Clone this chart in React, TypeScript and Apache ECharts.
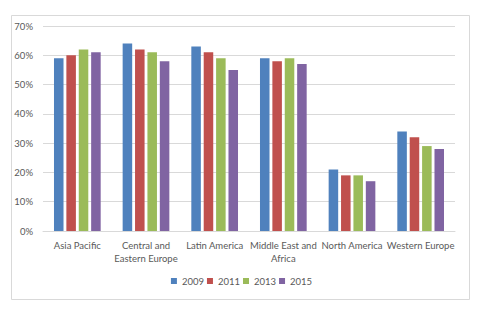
import React, { useEffect, useRef } from "react";
import * as echarts from "echarts";

const categories = [
  "Asia Pacific",
  "Central and Eastern Europe",
  "Latin America",
  "Middle East and Africa",
  "North America",
  "Western Europe",
];
const years = ["2009", "2011", "2013", "2015"];
const values2009 = [59, 64, 63, 59, 21, 34];
const values2011 = [60, 62, 61, 58, 19, 32];
const values2013 = [62, 61, 59, 59, 19, 29];
const values2015 = [61, 58, 55, 57, 17, 28];
const yTicks = [0, 10, 20, 30, 40, 50, 60, 70];

const colors = ["#4F81BD", "#C0504D", "#9BBB59", "#8064A2"];
const FONT = "Lato";
const TEXT = "#595959";

export default function App() {
  const ref = useRef<HTMLDivElement>(null);
  useEffect(() => {
    if (!ref.current) return;
    const chart = echarts.init(ref.current, null, { renderer: "svg" });
    const seriesData = [values2009, values2011, values2013, values2015];
    chart.setOption({
      animation: false,
      backgroundColor: "#ffffff",
      textStyle: { fontFamily: FONT },
      graphic: [
        {
          type: "rect",
          left: 9,
          top: 13,
          shape: { x: 0, y: 0, width: 458, height: 284 },
          style: { fill: "none", stroke: "#D9D9D9", lineWidth: 1 },
          silent: true,
        },
      ],
      grid: { left: 43, right: 28, top: 26, bottom: 83 },
      legend: {
        data: years,
        top: 271,
        left: "center",
        itemWidth: 6,
        itemHeight: 6,
        itemGap: 3,
        icon: "rect",
        textStyle: { color: TEXT, fontSize: 9.5, fontFamily: FONT },
      },
      xAxis: {
        type: "category",
        data: categories,
        axisLine: { lineStyle: { color: "#D9D9D9" } },
        axisTick: { show: false },
        axisLabel: {
          color: TEXT,
          fontSize: 9.5,
          fontFamily: FONT,
          interval: 0,
          margin: 8,
          lineHeight: 13,
          formatter: (v: string) => v.replace(" and ", " and\n"),
        },
      },
      yAxis: {
        type: "value",
        min: yTicks[0],
        max: yTicks[yTicks.length - 1],
        interval: 10,
        axisLine: { show: false },
        axisTick: { show: false },
        splitLine: { lineStyle: { color: "#D9D9D9" } },
        axisLabel: {
          color: TEXT,
          fontSize: 9.5,
          fontFamily: FONT,
          margin: 10,
          formatter: "{value}%",
        },
      },
      series: years.map((y, i) => ({
        name: y,
        type: "bar",
        data: seriesData[i],
        itemStyle: { color: colors[i] },
        barGap: "30%",
        barCategoryGap: "32%",
      })),
    });
    return () => chart.dispose();
  }, []);
  return (
    <div
      ref={ref}
      style={{ position: "fixed", left: 0, top: 0, width: 483, height: 314 }}
    />
  );
}
